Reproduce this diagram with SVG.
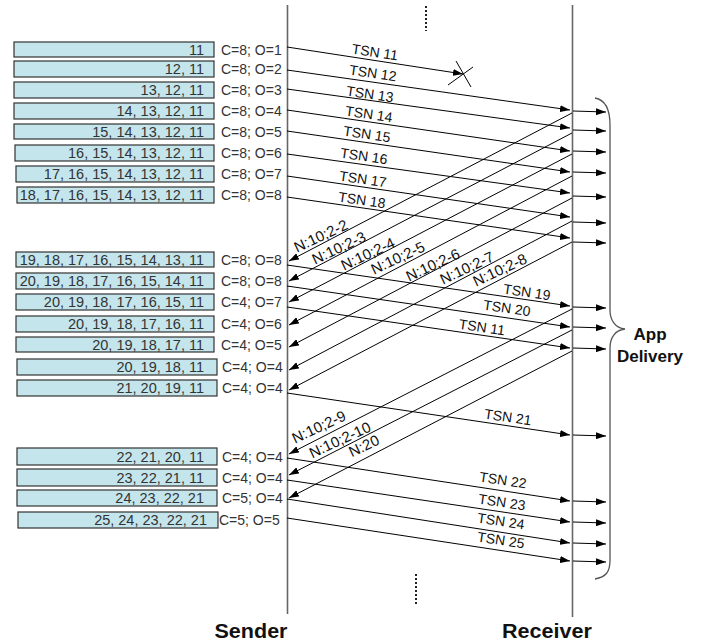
<svg xmlns="http://www.w3.org/2000/svg" width="707" height="643" viewBox="0 0 707 643">
<style>
.bx{fill:#c4e5ec;stroke:#333;stroke-width:1.2}
.bt{font-family:"Liberation Sans",Arial,sans-serif;font-size:14.5px;fill:#333;text-anchor:end}
.lb{font-family:"Liberation Sans",Arial,sans-serif;font-size:14px;fill:#333}
.tl{font-family:"Liberation Sans",Arial,sans-serif;font-size:14px;fill:#111;text-anchor:middle}
.sk{font-size:15px}
.life{stroke:#666;stroke-width:1.6;fill:none}
.dot{stroke:#222;stroke-width:2;stroke-dasharray:2,2;fill:none}
.ar{stroke:#000;stroke-width:1;fill:none;marker-end:url(#ah)}
.hd{font-family:"Liberation Sans",Arial,sans-serif;font-weight:bold;fill:#111;text-anchor:middle}
</style>
<defs>
<marker id="ah" viewBox="0 0 10 7" refX="10" refY="3.5" markerWidth="10" markerHeight="7" markerUnits="userSpaceOnUse" orient="auto"><path d="M0,0 L10,3.5 L0,7 z" fill="#000"/></marker>
</defs>
<rect width="707" height="643" fill="#fff"/>

<g id="sender">
<line class="life" x1="287.5" y1="5" x2="287.5" y2="614"/>
<text class="hd" x="251" y="638" font-size="20" textLength="73" lengthAdjust="spacingAndGlyphs">Sender</text>
</g>
<g id="receiver">
<line class="life" x1="572.5" y1="5" x2="572.5" y2="617"/>
<text class="hd" x="547" y="638" font-size="20" textLength="90" lengthAdjust="spacingAndGlyphs">Receiver</text>
</g>
<g id="dots">
<line class="dot" x1="426" y1="6" x2="426" y2="31"/>
<line class="dot" x1="416" y1="574" x2="416" y2="604"/>
</g>
<g id="app-delivery">
<path d="M595,98 C606,100 610,110 610,125 L610,310 C610,320 615,328 625,329 C615,330 610,338 610,348 L610,560 C610,572 606,577 595,579" fill="none" stroke="#555" stroke-width="1.3"/>
<text class="hd" x="650" y="340" font-size="17">App</text>
<text class="hd" x="650" y="362" font-size="17">Delivery</text>
</g>

<g id="buffers">
<g id="b1"><rect class="bx" x="14" y="42" width="200" height="15"/><text class="bt" x="204" y="54.5">11</text><text class="lb" x="221" y="54.5">C=8; O=1</text></g>
<g id="b2"><rect class="bx" x="14" y="61" width="200" height="16"/><text class="bt" x="204" y="74">12, 11</text><text class="lb" x="221" y="74">C=8; O=2</text></g>
<g id="b3"><rect class="bx" x="14" y="82" width="200" height="16"/><text class="bt" x="204" y="95">13, 12, 11</text><text class="lb" x="221" y="95">C=8; O=3</text></g>
<g id="b4"><rect class="bx" x="14" y="103" width="200" height="16"/><text class="bt" x="204" y="116">14, 13, 12, 11</text><text class="lb" x="221" y="116">C=8; O=4</text></g>
<g id="b5"><rect class="bx" x="14" y="124" width="200" height="15"/><text class="bt" x="204" y="136.5">15, 14, 13, 12, 11</text><text class="lb" x="221" y="136.5">C=8; O=5</text></g>
<g id="b6"><rect class="bx" x="15" y="145" width="199" height="16"/><text class="bt" x="204" y="158">16, 15, 14, 13, 12, 11</text><text class="lb" x="221" y="158">C=8; O=6</text></g>
<g id="b7"><rect class="bx" x="16" y="166" width="198" height="16"/><text class="bt" x="204" y="179">17, 16, 15, 14, 13, 12, 11</text><text class="lb" x="221" y="179">C=8; O=7</text></g>
<g id="b8"><rect class="bx" x="17" y="187" width="197" height="16"/><text class="bt" x="204" y="200">18, 17, 16, 15, 14, 13, 12, 11</text><text class="lb" x="221" y="200">C=8; O=8</text></g>
<g id="b9"><rect class="bx" x="16" y="252" width="198" height="15"/><text class="bt" x="204" y="264.5">19, 18, 17, 16, 15, 14, 13, 11</text><text class="lb" x="221" y="264.5">C=8; O=8</text></g>
<g id="b10"><rect class="bx" x="16" y="273" width="198" height="16"/><text class="bt" x="204" y="286">20, 19, 18, 17, 16, 15, 14, 11</text><text class="lb" x="221" y="286">C=8; O=8</text></g>
<g id="b11"><rect class="bx" x="16" y="294" width="198" height="16"/><text class="bt" x="204" y="307">20, 19, 18, 17, 16, 15, 11</text><text class="lb" x="221" y="307">C=4; O=7</text></g>
<g id="b12"><rect class="bx" x="16" y="316" width="198" height="16"/><text class="bt" x="204" y="329">20, 19, 18, 17, 16, 11</text><text class="lb" x="221" y="329">C=4; O=6</text></g>
<g id="b13"><rect class="bx" x="16" y="337" width="198" height="15"/><text class="bt" x="204" y="349.5">20, 19, 18, 17, 11</text><text class="lb" x="221" y="349.5">C=4; O=5</text></g>
<g id="b14"><rect class="bx" x="17" y="359" width="200" height="16"/><text class="bt" x="204" y="372">20, 19, 18, 11</text><text class="lb" x="222" y="372">C=4; O=4</text></g>
<g id="b15"><rect class="bx" x="17" y="380" width="200" height="16"/><text class="bt" x="204" y="393">21, 20, 19, 11</text><text class="lb" x="222" y="393">C=4; O=4</text></g>
<g id="b16"><rect class="bx" x="17" y="448" width="200" height="17"/><text class="bt" x="204" y="461.5">22, 21, 20, 11</text><text class="lb" x="222" y="461.5">C=4; O=4</text></g>
<g id="b17"><rect class="bx" x="17" y="469" width="200" height="17"/><text class="bt" x="204" y="482.5">23, 22, 21, 11</text><text class="lb" x="222" y="482.5">C=4; O=4</text></g>
<g id="b18"><rect class="bx" x="17" y="490" width="200" height="16"/><text class="bt" x="204" y="503">24, 23, 22, 21</text><text class="lb" x="222" y="503">C=5; O=4</text></g>
<g id="b19"><rect class="bx" x="18" y="512" width="200" height="16"/><text class="bt" x="207" y="525">25, 24, 23, 22, 21</text><text class="lb" x="219" y="525">C=5; O=5</text></g>
</g>

<g id="connectors">
<line class="ar" x1="287" y1="47" x2="463" y2="74"/>
<line x1="448" y1="85" x2="473" y2="67" stroke="#000" stroke-width="1"/>
<line x1="456" y1="61" x2="471" y2="87" stroke="#000" stroke-width="1"/>
<line class="ar" x1="287" y1="70" x2="570" y2="110"/>
<line class="ar" x1="287" y1="89" x2="570" y2="128"/>
<line class="ar" x1="287" y1="110" x2="570" y2="151"/>
<line class="ar" x1="287" y1="131" x2="570" y2="172"/>
<line class="ar" x1="287" y1="154" x2="570" y2="193"/>
<line class="ar" x1="287" y1="176" x2="570" y2="217"/>
<line class="ar" x1="287" y1="197" x2="570" y2="238"/>
<line class="ar" x1="287" y1="265" x2="570" y2="306"/>
<line class="ar" x1="287" y1="286" x2="570" y2="327"/>
<line class="ar" x1="287" y1="307" x2="570" y2="348"/>
<line class="ar" x1="287" y1="393" x2="570" y2="435"/>
<line class="ar" x1="287" y1="458" x2="570" y2="501"/>
<line class="ar" x1="287" y1="480" x2="570" y2="522"/>
<line class="ar" x1="287" y1="499" x2="570" y2="543"/>
<line class="ar" x1="287" y1="518" x2="570" y2="561"/>
<line class="ar" x1="572" y1="113" x2="289" y2="261"/>
<line class="ar" x1="572" y1="133" x2="289" y2="281"/>
<line class="ar" x1="572" y1="154" x2="289" y2="302"/>
<line class="ar" x1="572" y1="176" x2="289" y2="325"/>
<line class="ar" x1="572" y1="198" x2="289" y2="347"/>
<line class="ar" x1="572" y1="221" x2="289" y2="370"/>
<line class="ar" x1="572" y1="242" x2="289" y2="390"/>
<line class="ar" x1="572" y1="309" x2="289" y2="454"/>
<line class="ar" x1="572" y1="330" x2="289" y2="475"/>
<line class="ar" x1="572" y1="351" x2="289" y2="498"/>
<line class="ar" x1="573" y1="111" x2="606" y2="112"/>
<line class="ar" x1="573" y1="130" x2="606" y2="131"/>
<line class="ar" x1="573" y1="151" x2="606" y2="152"/>
<line class="ar" x1="573" y1="172" x2="606" y2="173"/>
<line class="ar" x1="573" y1="196" x2="606" y2="197"/>
<line class="ar" x1="573" y1="222" x2="606" y2="223"/>
<line class="ar" x1="573" y1="242" x2="606" y2="243"/>
<line class="ar" x1="573" y1="307" x2="606" y2="308"/>
<line class="ar" x1="573" y1="327" x2="606" y2="328"/>
<line class="ar" x1="573" y1="348" x2="606" y2="349"/>
<line class="ar" x1="573" y1="435" x2="606" y2="436"/>
<line class="ar" x1="573" y1="501" x2="606" y2="502"/>
<line class="ar" x1="573" y1="522" x2="606" y2="523"/>
<line class="ar" x1="573" y1="543" x2="606" y2="544"/>
<line class="ar" x1="573" y1="561" x2="606" y2="562"/>
<g class="tl">
<text transform="translate(375,52) rotate(8.5)" y="5">TSN 11</text>
<text transform="translate(373,73) rotate(8.2)" y="5">TSN 12</text>
<text transform="translate(370,94) rotate(8.2)" y="5">TSN 13</text>
<text transform="translate(369,114) rotate(8.2)" y="5">TSN 14</text>
<text transform="translate(367,134) rotate(8.2)" y="5">TSN 15</text>
<text transform="translate(364,156) rotate(8.2)" y="5">TSN 16</text>
<text transform="translate(363,179) rotate(8.2)" y="5">TSN 17</text>
<text transform="translate(362,200) rotate(8.2)" y="5">TSN 18</text>
<text transform="translate(527,292) rotate(8.2)" y="5">TSN 19</text>
<text transform="translate(507,308) rotate(8.2)" y="5">TSN 20</text>
<text transform="translate(482,327) rotate(8.2)" y="5">TSN 11</text>
<text transform="translate(508,417) rotate(8.2)" y="5">TSN 21</text>
<text transform="translate(503,480) rotate(8.4)" y="5">TSN 22</text>
<text transform="translate(502,502) rotate(8.4)" y="5">TSN 23</text>
<text transform="translate(501,521) rotate(8.4)" y="5">TSN 24</text>
<text transform="translate(501,540) rotate(8.4)" y="5">TSN 25</text>
<text class="sk" transform="translate(321,236) rotate(-25)" y="5">N:10;2-2</text>
<text class="sk" transform="translate(339,248) rotate(-25)" y="5">N:10;2-3</text>
<text class="sk" transform="translate(368,254) rotate(-25)" y="5">N:10;2-4</text>
<text class="sk" transform="translate(398,258) rotate(-25)" y="5">N:10;2-5</text>
<text class="sk" transform="translate(433,265) rotate(-25)" y="5">N:10;2-6</text>
<text class="sk" transform="translate(467,268) rotate(-25)" y="5">N:10;2-7</text>
<text class="sk" transform="translate(500,270) rotate(-25)" y="5">N:10;2-8</text>
<text class="sk" transform="translate(319,427) rotate(-25)" y="5">N:10;2-9</text>
<text class="sk" transform="translate(340,440) rotate(-25)" y="5">N:10;2-10</text>
<text class="sk" transform="translate(364,446) rotate(-25)" y="5">N:20</text>
</g>
</g>
</svg>
